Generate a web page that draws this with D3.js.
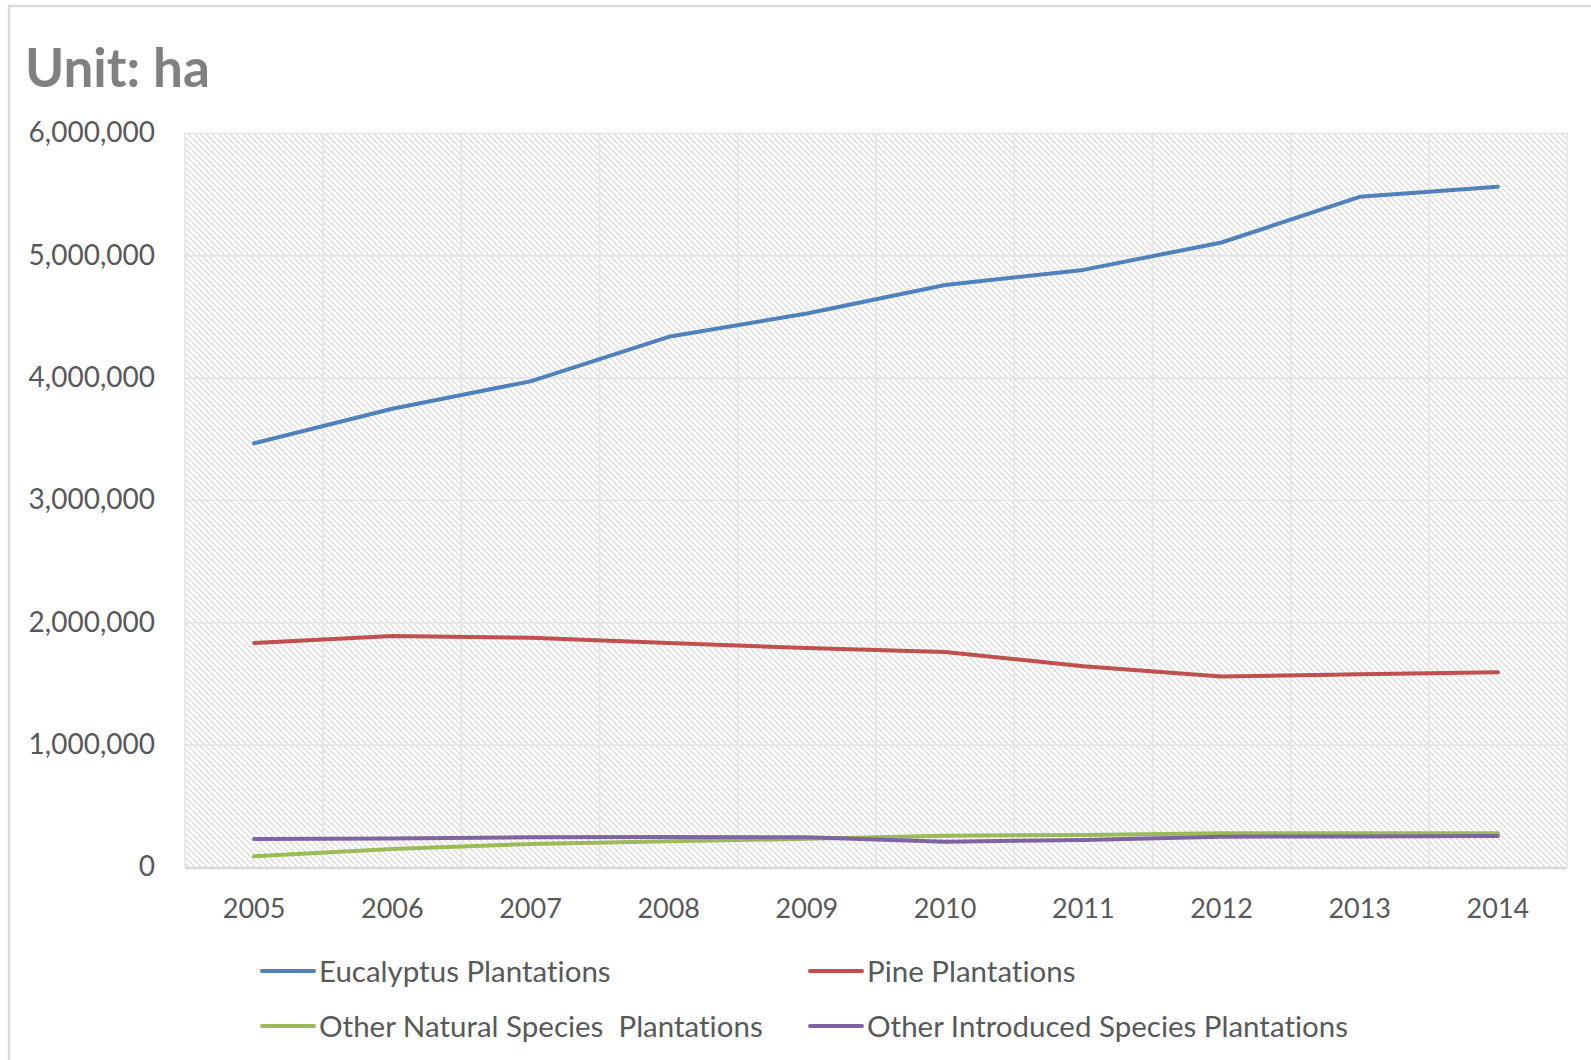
<!DOCTYPE html>
<html>
<head>
<meta charset="utf-8">
<script src="https://cdnjs.cloudflare.com/ajax/libs/d3/7.8.5/d3.min.js"></script>
<style>
  html, body { margin: 0; padding: 0; background: #fff; }
  svg { display: block; font-family: Lato, "Open Sans", sans-serif; font-variant-ligatures: none; font-feature-settings: "liga" 0, "clig" 0; }
</style>
</head>
<body>
<svg id="chart" width="1591" height="1060"></svg>
<script>
// Plantation area by type, hectares
const years = ["2005", "2006", "2007", "2008", "2009", "2010", "2011", "2012", "2013", "2014"];
const eucalyptus = [3464000, 3746000, 3970000, 4334000, 4525000, 4757000, 4881000, 5105000, 5478000, 5561000];
const pine = [1831000, 1889000, 1873000, 1831000, 1790000, 1757000, 1641000, 1558000, 1575000, 1591000];
const otherNatural = [87000, 147000, 188000, 210000, 230000, 256000, 262000, 276000, 276000, 276000];
const otherIntroduced = [229000, 233000, 243000, 245000, 243000, 207000, 221000, 248000, 250000, 253000];
const yTicks = [0, 1000000, 2000000, 3000000, 4000000, 5000000, 6000000];
const title = "Unit: ha";

const series = [
  { name: "Eucalyptus Plantations", values: eucalyptus, color: "#4F81BD" },
  { name: "Pine Plantations", values: pine, color: "#C0504D" },
  { name: "Other Natural Species  Plantations", values: otherNatural, color: "#9BBB59" },
  { name: "Other Introduced Species Plantations", values: otherIntroduced, color: "#8064A2" }
];
// legend is laid out in reading order: row by row, two per row
const legendOrder = [0, 1, 2, 3];

const svg = d3.select("#chart");
const W = 1591, H = 1060;
const plot = { left: 185, right: 1567, top: 133, bottom: 867 };

svg.append("rect").attr("width", W).attr("height", H).attr("fill", "#fff");

// outer chart frame (left and top edges show)
svg.append("path")
  .attr("d", `M9,${H} L9,6 L${W},6`)
  .attr("fill", "none").attr("stroke", "#d9d9d9").attr("stroke-width", 2.5);

// title
svg.append("text")
  .attr("x", 25).attr("y", 87)
  .attr("font-size", 53).attr("font-weight", 700)
  .attr("fill", "#808080")
  .text(title);

const x = d3.scaleBand().domain(years).range([plot.left, plot.right]).padding(0);
const cx = d => x(d) + x.bandwidth() / 2;
const y = d3.scaleLinear().domain([0, 6000000]).range([plot.bottom, plot.top]);

// hatched plot background
const defs = svg.append("defs");
const pat = defs.append("pattern")
  .attr("id", "hatch").attr("patternUnits", "userSpaceOnUse")
  .attr("width", 6).attr("height", 6);
pat.append("rect").attr("width", 6).attr("height", 6).attr("fill", "#fff");
pat.append("path")
  .attr("d", "M-1,-1 L7,7 M-4,2 L2,8 M4,-4 L10,2")
  .attr("stroke", "#dcdcdc").attr("stroke-width", 1.4);

svg.append("rect")
  .attr("x", plot.left).attr("y", plot.top)
  .attr("width", plot.right - plot.left).attr("height", plot.bottom - plot.top)
  .attr("fill", "url(#hatch)");

// horizontal gridlines
svg.append("g")
  .attr("transform", `translate(${plot.left},0)`)
  .call(d3.axisLeft(y).tickValues(yTicks).tickSize(-(plot.right - plot.left)).tickFormat(""))
  .call(g => g.select(".domain").remove())
  .call(g => g.selectAll("line").attr("stroke", "#e4e4e4").attr("stroke-width", 1.6));

// vertical gridlines at category boundaries
const bounds = years.map(d => x(d)).concat([plot.right]);
svg.append("g").selectAll("line").data(bounds).join("line")
  .attr("x1", d => d).attr("x2", d => d)
  .attr("y1", plot.top).attr("y2", plot.bottom)
  .attr("stroke", "#e4e4e4").attr("stroke-width", 1.6);

// category axis line
svg.append("line")
  .attr("x1", plot.left).attr("x2", plot.right)
  .attr("y1", plot.bottom + 1).attr("y2", plot.bottom + 1)
  .attr("stroke", "#d9d9d9").attr("stroke-width", 2.5);

// y axis labels
svg.append("g")
  .attr("transform", `translate(${plot.left},0)`)
  .call(d3.axisLeft(y).tickValues(yTicks).tickSize(0).tickPadding(30).tickFormat(d3.format(",")))
  .call(g => g.select(".domain").remove())
  .call(g => g.selectAll("text")
    .attr("font-family", "Lato, 'Open Sans', sans-serif")
    .attr("font-size", 28).attr("fill", "#595959"));

// x axis labels
svg.append("g")
  .attr("transform", `translate(0,${plot.bottom})`)
  .call(d3.axisBottom(x).tickSize(0).tickPadding(32))
  .call(g => g.select(".domain").remove())
  .call(g => g.selectAll("text")
    .attr("font-family", "Lato, 'Open Sans', sans-serif")
    .attr("font-size", 27).attr("fill", "#595959"));

// series lines
const line = d3.line()
  .x((v, i) => cx(years[i]))
  .y(v => y(v));

svg.append("g").selectAll("path").data(series).join("path")
  .attr("d", s => line(s.values))
  .attr("fill", "none")
  .attr("stroke", s => s.color)
  .attr("stroke-width", 4)
  .attr("stroke-linejoin", "round")
  .attr("stroke-linecap", "round");

// legend
const legCols = [262, 810];
const legRows = [971, 1026];
const leg = svg.append("g").selectAll("g").data(legendOrder).join("g")
  .attr("transform", (d, i) => `translate(${legCols[i % 2]},${legRows[Math.floor(i / 2)]})`);
leg.append("line")
  .attr("x1", 0).attr("x2", 52)
  .attr("stroke", d => series[d].color)
  .attr("stroke-width", 4).attr("stroke-linecap", "round");
leg.append("text")
  .attr("x", 57).attr("dy", "0.36em")
  .attr("font-size", 29.5).attr("fill", "#595959")
  .attr("xml:space", "preserve")
  .style("white-space", "pre")
  .text(d => series[d].name);
</script>
</body>
</html>
